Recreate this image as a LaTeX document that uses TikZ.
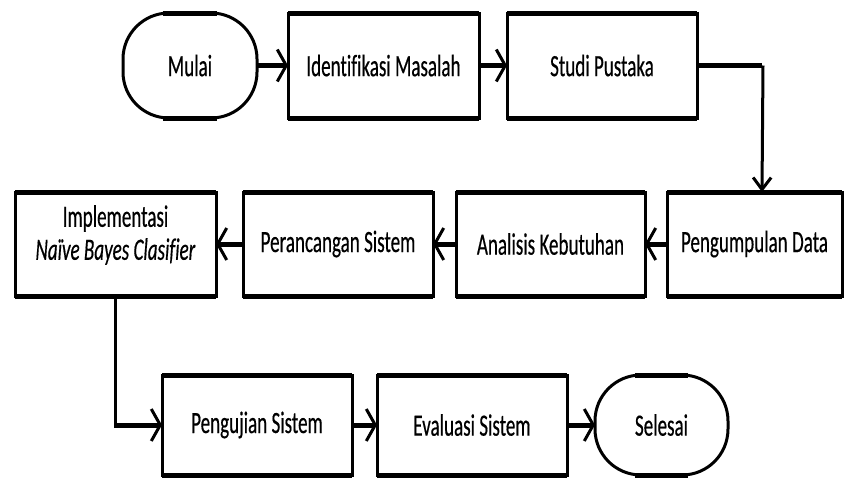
\documentclass[tikz,border=0pt]{standalone}
\usepackage{fontspec}
\setmainfont[FakeStretch=0.615,FakeBold=0.4,Ligatures=NoCommon]{Carlito}
\usetikzlibrary{arrows.meta,calc}
\begin{document}
\begin{tikzpicture}[x=1pt,y=1pt,
  box/.style={draw=black,line width=3pt,outer sep=0pt,inner sep=2pt,fill=white,
    font=\fontsize{31}{33}\selectfont,align=center},
  term/.style={box,rounded corners=46pt},
  txt/.style={font=\fontsize{31}{33}\selectfont,align=center,inner sep=0pt},
  hline/.style={line width=5pt,-{Straight Barb[length=9pt,width=32pt,line width=3pt]}},
  vline/.style={line width=3pt,-{Straight Barb[length=12pt,width=18pt,line width=3pt]}},
  edge/.style={line width=5pt}
]
\useasboundingbox (0,0) rectangle (844,-477);
% row 1
\node[term,minimum width=134pt,minimum height=105pt] (mulai) at (190,-65.5) {Mulai};
\node[box,minimum width=191pt,minimum height=105pt] (ident) at (383.5,-65.5) {Identifikasi Masalah};
\node[box,minimum width=190pt,minimum height=105pt] (studi) at (602,-65.5) {Studi Pustaka};
% row 2
\node[box,minimum width=201pt,minimum height=104pt] (impl) at (115.5,-244) {};
\node[txt] (impltext) at (115.5,-235) {Implementasi\\\textit{Naïve Bayes Clasifier}};
\node[box,minimum width=190pt,minimum height=104pt] (peran) at (338,-244) {Perancangan Sistem};
\node[box,minimum width=189pt,minimum height=104pt] (anal) at (550.5,-244) {Analisis Kebutuhan};
\node[box,minimum width=175pt,minimum height=104pt] (kump) at (754.5,-244) {Pengumpulan Data};
% row 3
\node[box,minimum width=190pt,minimum height=100pt] (uji) at (257,-425) {Pengujian Sistem};
\node[box,minimum width=190pt,minimum height=100pt] (eval) at (472,-425) {Evaluasi Sistem};
\node[term,minimum width=133pt,minimum height=100pt] (selesai) at (661.5,-425) {Selesai};
% thicker top and bottom edges
\foreach \n in {ident,studi,impl,peran,anal,kump,uji,eval}{
  \draw[edge] (\n.north west) -- (\n.north east);
  \draw[edge] (\n.south west) -- (\n.south east);
}
\foreach \n in {mulai,selesai}{
  \draw[edge] ($(\n.north west)+(40,0)$) -- ($(\n.north east)+(-40,0)$);
  \draw[edge] ($(\n.south west)+(40,0)$) -- ($(\n.south east)+(-40,0)$);
}
% connectors
\coordinate (turn) at (762,-65.5);
\draw[hline] (mulai) -- (ident);
\draw[hline] (ident) -- (studi);
\draw[edge] (studi.east) -- (turn);
\draw[vline] ([xshift=1pt]turn) -- (turn |- kump.north);
\draw[hline] (kump) -- (anal);
\draw[hline] (anal) -- (peran);
\draw[hline] (peran) -- (impl);
\draw[line width=3pt] (impl.south) -- (impl.south |- uji.west);
\draw[hline] ([xshift=-1.5pt]impl.south |- uji.west) -- (uji.west);
\draw[hline] (uji) -- (eval);
\draw[hline] (eval) -- (selesai);
\end{tikzpicture}
\end{document}
